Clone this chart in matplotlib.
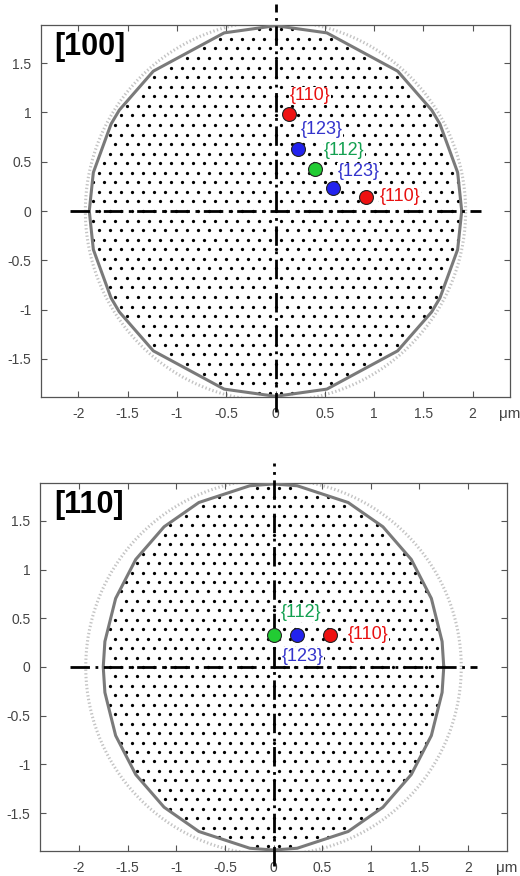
import numpy as np
import matplotlib.pyplot as plt
from matplotlib.path import Path

plt.rcParams['font.family'] = ['Liberation Sans', 'DejaVu Sans']
plt.rcParams['lines.scale_dashes'] = False

# panel labels
panels = ['[100]', '[110]']

# outline polygons (vertex angles in first quadrant, deg) and radii (um)
outline_angles = [[0, 12, 28, 33, 49, 74, 90],
                  [0, 8, 22, 36, 50, 64, 82, 90]]
outline_rx = [1.89, 1.75]
outline_ry = [1.88, 1.88]
ref_circle_r = 1.93

# pole markers: x, y, colour
pole_x = [[0.14, 0.23, 0.40, 0.58, 0.92],
          [0.0, 0.24, 0.58]]
pole_y = [[0.98, 0.63, 0.43, 0.23, 0.14],
          [0.33, 0.33, 0.33]]
pole_c = [['#ee1111', '#2222ee', '#22cc33', '#2222ee', '#ee1111'],
          ['#22cc33', '#2222ee', '#ee1111']]

# pole labels: text, x, y, colour
lab_txt = [['{110}', '{123}', '{112}', '{123}', '{110}'],
           ['{112}', '{123}', '{110}']]
lab_x = [[0.35, 0.47, 0.70, 0.84, 1.26],
         [0.28, 0.30, 0.97]]
lab_y = [[1.17, 0.83, 0.61, 0.40, 0.15],
         [0.56, 0.11, 0.33]]
lab_c = [['#e81010', '#3333cc', '#13a050', '#3333cc', '#e81010'],
         ['#13a050', '#3333cc', '#e81010']]

xticks = [-2, -1.5, -1, -0.5, 0, 0.5, 1, 1.5, 2]
yticks = [-1.5, -1, -0.5, 0, 0.5, 1, 1.5]
tick_lbl = lambda v: ('%g' % v)

lattice_a = 0.112  # spacing of the dot lattice (um)

fig = plt.figure(figsize=(5.2, 8.76), dpi=100)
rects = [[41/520, 1-397/876, 469/520, 372/876],
         [40/520, 1-851/876, 467/520, 368/876]]
xlims = [2.38, 2.40]
ylims = [1.887, 1.89]

for k in range(2):
    ax = fig.add_axes(rects[k])
    ax.set_xlim(-xlims[k], xlims[k])
    ax.set_ylim(-ylims[k], ylims[k])

    # build outline polygon by mirroring the quadrant
    q = np.radians(outline_angles[k])
    th = np.concatenate([q, np.pi - q[::-1][1:], np.pi + q[1:], 2*np.pi - q[::-1][1:]])
    px = outline_rx[k]*np.cos(th)
    py = outline_ry[k]*np.sin(th)

    # dot lattice inside outline
    n = 30
    ii, jj = np.meshgrid(np.arange(-n, n+1), np.arange(-n, n+1))
    lx = (ii + 0.5*(jj % 2))*lattice_a
    ly = jj*lattice_a*np.sqrt(3)/2
    pts = np.column_stack([lx.ravel(), ly.ravel()])
    inside = Path(np.column_stack([px, py])).contains_points(pts, radius=-0.02)
    ax.scatter(pts[inside, 0], pts[inside, 1], s=5.5, c='black', lw=0, zorder=2)

    # reference circle and outline
    t = np.linspace(0, 2*np.pi, 300)
    ax.plot(ref_circle_r*np.cos(t), ref_circle_r*np.sin(t), ls=':', lw=2.2,
            color='#c4c4c4', zorder=1)
    ax.plot(px, py, color='#7a7a7a', lw=2.2, zorder=3)

    # dash-dot axes
    dash = (0, (14, 4, 2, 4))
    ax.plot([-2.09, 2.09], [0, 0], color='black', lw=2, ls=dash, zorder=4)
    ax.plot([0, 0], [-2.04, 2.1], color='black', lw=2, ls=dash, zorder=4,
            clip_on=False)

    # poles
    for x, y, c in zip(pole_x[k], pole_y[k], pole_c[k]):
        ax.plot(x, y, 'o', ms=10, mfc=c, mec='#222222', mew=0.8, zorder=6)
    for s, x, y, c in zip(lab_txt[k], lab_x[k], lab_y[k], lab_c[k]):
        ax.text(x, y, s, color=c, fontsize=13, ha='center', va='center', zorder=5,
                bbox=dict(facecolor='white', edgecolor='none', pad=0.4))

    ax.text(-2.25, 1.66, panels[k], fontsize=22, fontweight='bold',
            ha='left', va='center', zorder=7)

    ax.set_xticks(xticks)
    ax.set_xticklabels([tick_lbl(v) for v in xticks])
    ax.set_yticks(yticks)
    ax.set_yticklabels([tick_lbl(v) for v in yticks])
    ax.tick_params(direction='in', length=4, width=0.8, color='#555555',
                   labelcolor='#444444', labelsize=10, top=True, right=True, pad=7)
    for sp in ax.spines.values():
        sp.set_color('#555555')
        sp.set_linewidth(0.9)
    ax.text(1.0, -0.045, 'μm', transform=ax.transAxes, fontsize=11, color='#444444',
            ha='center', va='center', clip_on=False)

fig.savefig('out.png', dpi=100)
